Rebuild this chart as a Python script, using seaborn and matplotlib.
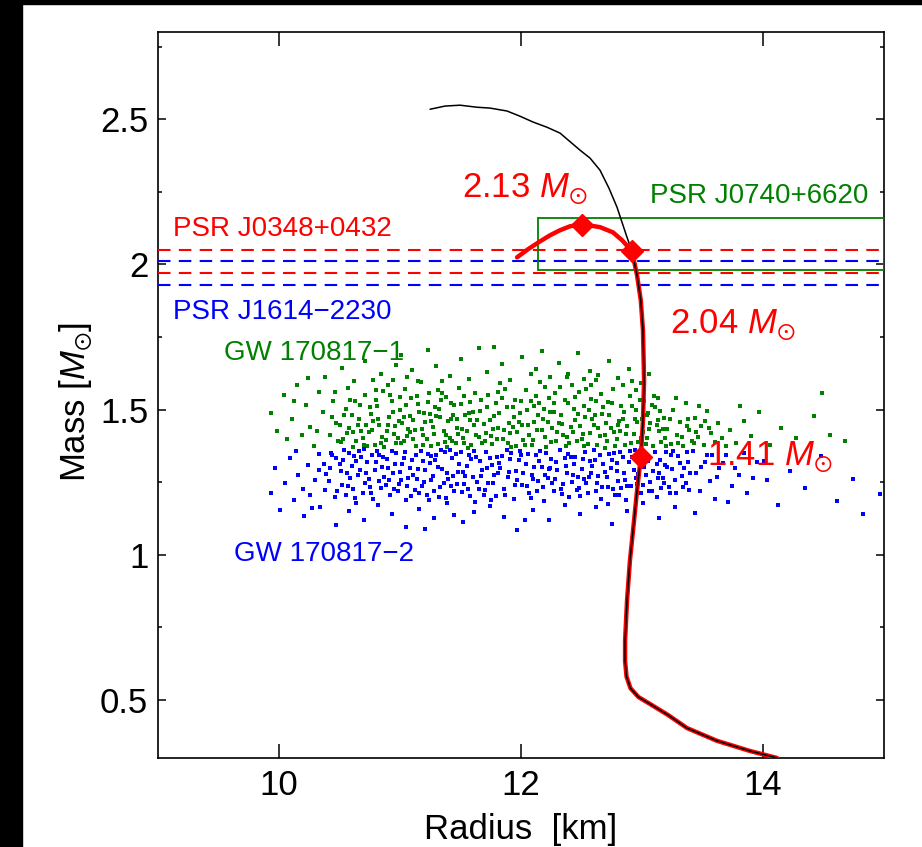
import matplotlib
matplotlib.use("Agg")
import matplotlib.pyplot as plt
from matplotlib.patches import Rectangle
from matplotlib.ticker import MultipleLocator, FixedLocator
import seaborn as sns
import pandas as pd

# mass-radius curve of the EOS (black, full branch)
curve_radius = [14.116, 13.893, 13.620, 13.372, 13.215, 13.066, 12.970, 12.905, 12.872, 12.860, 12.860,
                12.876, 12.900, 12.934, 12.959, 12.990, 13.008, 13.017, 13.008, 12.990, 12.959,
                12.917, 12.876, 12.793, 12.727, 12.653, 12.570, 12.488, 12.322, 12.215, 12.099,
                11.992, 11.884, 11.744, 11.636, 11.496, 11.372, 11.248]
curve_mass = [0.300, 0.324, 0.359, 0.403, 0.448, 0.486, 0.510, 0.540, 0.580, 0.634, 0.703,
              0.841, 0.979, 1.117, 1.221, 1.335, 1.462, 1.600, 1.772, 1.876, 1.962,
              2.045, 2.093, 2.197, 2.262, 2.324, 2.366, 2.393, 2.452, 2.472, 2.490,
              2.510, 2.528, 2.538, 2.541, 2.548, 2.545, 2.534]

# red branch (same low-mass part, then turns over at 2.13)
red_radius = [14.116, 13.893, 13.620, 13.372, 13.215, 13.066, 12.970, 12.905, 12.872, 12.860, 12.860,
              12.876, 12.900, 12.934, 12.959, 12.990, 13.008, 13.017, 13.008, 12.990, 12.959,
              12.917, 12.835, 12.760, 12.653, 12.504, 12.405, 12.320, 12.240, 12.157, 12.058, 11.967]
red_mass = [0.300, 0.324, 0.359, 0.403, 0.448, 0.486, 0.510, 0.540, 0.580, 0.634, 0.703,
            0.841, 0.979, 1.117, 1.221, 1.335, 1.462, 1.600, 1.772, 1.876, 1.962,
            2.045, 2.083, 2.110, 2.128, 2.138, 2.131, 2.117, 2.100, 2.079, 2.052, 2.024]

# marked stars
star_radius = [12.50, 12.92, 12.99]
star_mass = [2.134, 2.045, 1.335]
star_labels = ["2.13", "2.04", "1.41"]
star_label_pos = [(11.51, 2.231), (13.23, 1.762), (13.54, 1.307)]

# pulsar mass bands
j0348_band = [2.05, 1.97]
j1614_band = [2.01, 1.93]
j0740_box = (12.14, 1.979, 15.0, 2.158)  # R0, M0, R1, M1

# GW170817 posterior samples (heavier star)
gw1_points = [
    (10.42,1.412),(10.47,1.455),(10.51,1.389),(10.55,1.503),(10.58,1.437),(10.61,1.372),(10.63,1.528),(10.66,1.468),(10.69,1.401),(10.71,1.549),
    (10.74,1.421),(10.76,1.486),(10.79,1.378),(10.81,1.512),(10.83,1.446),(10.86,1.563),(10.88,1.395),(10.91,1.474),(10.93,1.531),(10.95,1.417),
    (10.97,1.384),(11.00,1.497),(11.02,1.452),(11.04,1.569),(11.06,1.408),(11.09,1.538),(11.11,1.463),(11.13,1.376),(11.15,1.519),(11.18,1.432),
    (11.20,1.488),(11.22,1.397),(11.24,1.556),(11.27,1.441),(11.29,1.507),(11.31,1.381),(11.33,1.473),(11.36,1.425),(11.38,1.542),(11.40,1.459),
    (11.43,1.392),(11.45,1.514),(11.47,1.437),(11.49,1.575),(11.52,1.403),(11.54,1.481),(11.56,1.369),(11.58,1.526),(11.61,1.448),(11.63,1.411),
    (11.66,1.495),(11.68,1.385),(10.45,1.528),(10.53,1.398),(10.60,1.481),(10.68,1.427),(10.73,1.374),(10.78,1.459),(10.85,1.407),(10.90,1.583),
    (10.96,1.444),(11.03,1.391),(11.08,1.479),(11.14,1.545),(11.19,1.413),(11.26,1.376),(11.32,1.501),(11.37,1.389),(11.42,1.466),(11.48,1.414),
    (11.53,1.547),(11.59,1.379),(11.64,1.463),(10.50,1.445),(10.64,1.392),(10.80,1.533),(10.98,1.403),(11.12,1.428),(11.25,1.483),(11.39,1.372),
    (11.51,1.432),(11.67,1.532),(10.57,1.575),(10.87,1.372),(11.05,1.516),(11.35,1.558),(11.46,1.386),(11.60,1.492),
    (11.71,1.418),(11.73,1.551),(11.76,1.382),(11.78,1.476),(11.81,1.437),(11.83,1.592),(11.85,1.399),(11.88,1.509),(11.90,1.455),(11.92,1.371),
    (11.95,1.532),(11.97,1.421),(11.99,1.487),(12.02,1.394),(12.04,1.568),(12.06,1.446),(12.09,1.378),(12.11,1.513),(12.13,1.431),(12.16,1.596),
    (12.18,1.466),(12.20,1.405),(12.23,1.541),(12.25,1.387),(12.27,1.492),(12.30,1.424),(12.32,1.579),(12.34,1.451),(12.37,1.373),(12.39,1.523),
    (12.41,1.439),(12.44,1.502),(12.46,1.392),(12.48,1.561),(12.51,1.417),(12.53,1.474),(12.55,1.382),(12.58,1.537),(12.60,1.448),(12.62,1.603),
    (12.65,1.409),(12.67,1.485),(12.69,1.369),(12.72,1.527),(12.74,1.436),(12.76,1.571),(12.79,1.398),(12.81,1.461),(12.83,1.512),(12.86,1.379),
    (12.88,1.443),(12.90,1.548),(12.93,1.414),(12.95,1.497),(12.97,1.388),(13.00,1.466),(13.02,1.531),(13.04,1.403),(13.07,1.452),(13.09,1.376),
    (13.11,1.508),(13.14,1.427),(13.16,1.389),(13.18,1.472),(11.74,1.463),(11.80,1.397),(11.87,1.572),(11.93,1.441),(12.00,1.528),(12.07,1.412),
    (12.14,1.482),(12.21,1.371),(12.28,1.556),(12.35,1.413),(12.42,1.586),(12.49,1.443),(12.56,1.497),(12.63,1.378),(12.70,1.452),(12.77,1.421),
    (12.84,1.583),(12.91,1.383),(12.98,1.534),(13.05,1.487),(13.12,1.445),(13.19,1.401),(11.79,1.523),(11.96,1.373),(12.12,1.547),(12.26,1.437),
    (12.40,1.384),(12.54,1.571),(12.68,1.507),(12.82,1.425),(12.96,1.456),(13.10,1.548),(11.86,1.428),(12.19,1.503),(12.45,1.463),(12.71,1.391),
    (13.21,1.433),(13.24,1.381),(13.26,1.497),(13.29,1.412),(13.31,1.456),(13.34,1.375),(13.36,1.521),(13.39,1.428),(13.41,1.392),(13.44,1.471),
    (13.46,1.405),(13.49,1.442),(13.51,1.378),(13.54,1.496),(13.57,1.419),(13.60,1.387),(13.63,1.452),(13.66,1.402),(13.69,1.373),(13.28,1.541),
    (13.38,1.468),(13.47,1.512),(13.55,1.437),(13.33,1.404),(13.43,1.383),
    (10.38,1.612),(10.52,1.643),(10.62,1.598),(10.71,1.667),(10.84,1.622),(10.94,1.603),(11.01,1.688),(11.10,1.637),(11.17,1.594),(11.23,1.706),
    (11.30,1.651),(11.41,1.617),(11.50,1.674),(11.57,1.606),(11.65,1.712),(11.72,1.628),(11.84,1.656),(11.91,1.601),(12.01,1.682),(12.08,1.624),
    (12.17,1.701),(12.24,1.613),(12.31,1.659),(12.38,1.612),(12.47,1.693),(12.57,1.633),(12.64,1.618),(12.73,1.667),(12.80,1.609),(12.89,1.641),
    (12.99,1.592),(13.06,1.622),(11.35,1.598),(11.78,1.716),(12.12,1.638),(12.52,1.605),(10.78,1.601),(11.06,1.612),(12.92,1.597),(10.97,1.654),
    (9.93,1.489),(9.98,1.427),(10.04,1.551),(10.07,1.398),(10.11,1.466),(10.15,1.583),(10.19,1.412),(10.22,1.517),(10.26,1.441),(10.29,1.374),
    (10.33,1.562),(10.36,1.493),(10.24,1.608),(10.12,1.531),(10.31,1.427),
    (13.73,1.428),(13.78,1.385),(13.84,1.461),(13.90,1.409),(13.97,1.492),(14.06,1.377),(14.15,1.438),(14.27,1.402),(14.42,1.476),(14.55,1.413),
    (14.68,1.392),(13.81,1.512),(14.49,1.558),
    (10.44,1.473),(10.49,1.391),(10.56,1.419),(10.59,1.532),(10.65,1.448),(10.70,1.379),(10.75,1.507),(10.82,1.468),(10.89,1.426),(10.92,1.551),
    (10.99,1.462),(11.01,1.383),(11.07,1.433),(11.16,1.492),(11.21,1.456),(11.28,1.417),(11.34,1.533),(11.41,1.402),(11.44,1.482),(11.50,1.518),
    (11.55,1.427),(11.62,1.558),(11.69,1.451),(11.75,1.409),(11.82,1.487),(11.89,1.383),(11.94,1.473),(12.01,1.447),(12.05,1.497),(12.10,1.396),
    (12.15,1.521),(12.22,1.458),(12.29,1.393),(12.33,1.482),(12.36,1.534),(12.43,1.421),(12.50,1.397),(12.52,1.513),(12.59,1.468),(12.64,1.437),
    (12.66,1.552),(12.73,1.482),(12.78,1.373),(12.85,1.493),(12.87,1.415),(12.94,1.466),(13.01,1.423),(13.03,1.382),(13.08,1.516),(13.13,1.463),
    (13.17,1.433),(13.23,1.468),(13.30,1.385),(13.37,1.443),(13.45,1.423),(13.52,1.462),(10.46,1.561),(10.54,1.482),(10.67,1.515),(10.77,1.431),
    (10.84,1.385),(10.94,1.492),(11.03,1.475),(11.08,1.421),(11.19,1.378),(11.23,1.527),(11.30,1.477),(11.38,1.411),(11.47,1.468),(11.53,1.383),
    (11.58,1.464),(11.65,1.405),(11.72,1.508),(11.77,1.432),(11.84,1.541),(11.91,1.418),(11.98,1.456),(12.03,1.378),(12.08,1.531),(12.17,1.431),
    (12.24,1.491),(12.31,1.453),(12.38,1.406),(12.45,1.543),(12.52,1.376),(12.57,1.419),(12.61,1.482),(12.69,1.413),(12.75,1.521),(12.80,1.447),
    (12.92,1.511),(12.99,1.403),(13.06,1.433),(13.15,1.496),(13.20,1.376),(10.61,1.421),(10.72,1.447),(10.90,1.447),(11.11,1.399),(11.26,1.462),
    (11.42,1.521),(11.57,1.487),(11.70,1.391),(11.93,1.508),(12.11,1.458),(12.27,1.523),(12.47,1.484),(12.62,1.529),(12.84,1.466),(13.04,1.482),
    (10.80,1.566),(11.00,1.542),(11.31,1.568),(11.81,1.562),(12.20,1.576),(12.58,1.586),(12.95,1.566),(13.13,1.541),(11.15,1.598),(12.39,1.621),
]

# GW170817 posterior samples (lighter star)
gw2_points = [
    (10.37,1.312),(10.41,1.254),(10.44,1.343),(10.48,1.221),(10.51,1.287),(10.54,1.362),(10.57,1.238),(10.60,1.305),(10.63,1.196),(10.65,1.274),
    (10.68,1.338),(10.71,1.247),(10.73,1.318),(10.76,1.213),(10.79,1.291),(10.81,1.356),(10.84,1.229),(10.87,1.268),(10.89,1.331),(10.92,1.204),
    (10.94,1.283),(10.97,1.349),(10.99,1.242),(11.02,1.311),(11.05,1.189),(11.07,1.263),(11.10,1.327),(11.12,1.224),(11.15,1.296),(11.17,1.358),
    (11.20,1.251),(11.22,1.207),(11.25,1.316),(11.27,1.272),(11.30,1.345),(11.33,1.233),(11.35,1.294),(11.38,1.196),(11.40,1.261),(11.43,1.334),
    (11.45,1.218),(11.48,1.285),(11.50,1.352),(11.53,1.244),(11.55,1.307),(11.58,1.201),(11.60,1.269),(11.63,1.336),(11.65,1.228),(11.68,1.291),
    (10.39,1.279),(10.46,1.198),(10.53,1.326),(10.59,1.263),(10.66,1.357),(10.72,1.283),(10.78,1.192),(10.85,1.302),(10.91,1.258),(10.98,1.218),
    (11.04,1.353),(11.11,1.276),(11.18,1.236),(11.24,1.187),(11.31,1.302),(11.37,1.352),(11.44,1.271),(11.51,1.215),(11.57,1.342),(11.64,1.252),
    (10.43,1.351),(10.56,1.283),(10.69,1.212),(10.83,1.344),(10.96,1.313),(11.09,1.201),(11.23,1.348),(11.36,1.246),(11.49,1.312),(11.62,1.183),
    (10.62,1.339),(10.88,1.241),(11.14,1.262),(11.41,1.361),(11.66,1.321),
    (11.71,1.352),(11.73,1.248),(11.76,1.309),(11.79,1.203),(11.81,1.281),(11.84,1.341),(11.86,1.227),(11.89,1.266),(11.91,1.329),(11.94,1.192),
    (11.96,1.288),(11.99,1.357),(12.01,1.239),(12.04,1.314),(12.07,1.211),(12.09,1.276),(12.12,1.344),(12.14,1.253),(12.17,1.301),(12.19,1.186),
    (12.22,1.264),(12.25,1.331),(12.27,1.221),(12.30,1.292),(12.32,1.359),(12.35,1.243),(12.37,1.307),(12.40,1.199),(12.43,1.273),(12.45,1.338),
    (12.48,1.231),(12.50,1.296),(12.53,1.354),(12.55,1.214),(12.58,1.282),(12.61,1.326),(12.63,1.247),(12.66,1.193),(12.68,1.311),(12.71,1.268),
    (12.73,1.347),(12.76,1.226),(12.79,1.289),(12.81,1.205),(12.84,1.336),(12.86,1.257),(12.89,1.318),(12.91,1.236),(12.94,1.362),(12.97,1.278),
    (12.99,1.213),(13.02,1.301),(13.04,1.343),(13.07,1.249),(13.09,1.287),(13.12,1.198),(13.15,1.326),(13.17,1.264),(13.20,1.352),(13.22,1.232),
    (13.25,1.296),(13.28,1.213),(13.30,1.339),(13.33,1.271),(13.36,1.247),(13.38,1.318),(11.75,1.187),(11.82,1.316),(11.88,1.362),(11.95,1.241),
    (12.02,1.283),(12.08,1.197),(12.15,1.323),(12.21,1.351),(12.28,1.262),(12.34,1.209),(12.41,1.336),(12.47,1.267),(12.54,1.246),(12.60,1.359),
    (12.67,1.234),(12.74,1.298),(12.80,1.253),(12.87,1.188),(12.93,1.291),(13.00,1.362),(13.06,1.221),(13.13,1.264),(13.19,1.309),(13.26,1.356),
    (11.78,1.273),(11.98,1.326),(12.18,1.232),(12.38,1.282),(12.57,1.324),(12.77,1.349),(12.96,1.243),(13.16,1.231),(13.35,1.297),(12.24,1.298),
    (10.21,1.132),(10.34,1.165),(10.47,1.103),(10.58,1.152),(10.70,1.121),(10.82,1.171),(10.93,1.141),(11.05,1.094),(11.16,1.158),(11.28,1.126),
    (11.39,1.177),(11.52,1.113),(11.61,1.148),(11.74,1.167),(11.86,1.129),(11.97,1.084),(12.10,1.153),(12.23,1.118),(12.36,1.172),(12.49,1.139),
    (12.62,1.164),(12.75,1.107),(12.88,1.149),(13.01,1.178),(13.14,1.127),(13.27,1.163),(13.44,1.142),(11.21,1.087),(12.03,1.121),(12.72,1.173),
    (10.64,1.178),(11.45,1.137),
    (9.93,1.214),(9.97,1.297),(10.01,1.153),(10.05,1.246),(10.09,1.333),(10.12,1.187),(10.16,1.274),(10.20,1.226),(10.24,1.308),(10.27,1.162),
    (10.30,1.259),(10.33,1.346),(10.14,1.357),(10.26,1.204),
    (13.42,1.356),(13.45,1.283),(13.48,1.221),(13.52,1.318),(13.56,1.254),(13.60,1.192),(13.64,1.297),(13.69,1.342),(13.74,1.236),(13.80,1.276),
    (13.87,1.211),(13.95,1.318),(14.03,1.258),(14.12,1.172),(14.22,1.289),(14.35,1.229),(14.48,1.341),(14.61,1.184),(14.74,1.262),(14.83,1.141),
    (14.97,1.208),(13.58,1.343),(13.71,1.182),
    (10.42,1.297),(10.47,1.333),(10.52,1.239),(10.58,1.349),(10.61,1.228),(10.67,1.293),(10.70,1.363),(10.74,1.262),(10.80,1.318),(10.83,1.253),
    (10.86,1.335),(10.90,1.297),(10.95,1.227),(11.00,1.286),(11.03,1.334),(11.06,1.238),(11.13,1.344),(11.16,1.214),(11.21,1.293),(11.26,1.256),
    (11.29,1.326),(11.32,1.198),(11.34,1.361),(11.39,1.283),(11.42,1.236),(11.46,1.347),(11.52,1.286),(11.56,1.226),(11.59,1.329),(11.67,1.271),
    (11.70,1.223),(11.74,1.333),(11.77,1.248),(11.83,1.298),(11.87,1.207),(11.92,1.351),(11.97,1.259),(12.00,1.342),(12.05,1.237),(12.11,1.302),
    (12.13,1.221),(12.16,1.357),(12.20,1.274),(12.26,1.247),(12.29,1.318),(12.33,1.226),(12.36,1.332),(12.42,1.252),(12.44,1.312),(12.49,1.203),
    (12.51,1.331),(12.56,1.269),(12.59,1.304),(12.62,1.218),(12.65,1.343),(12.69,1.286),(12.72,1.232),(12.75,1.327),(12.78,1.206),(12.82,1.352),
    (12.85,1.281),(12.88,1.236),(12.92,1.336),(12.95,1.264),(12.98,1.306),(13.01,1.239),(13.05,1.321),(13.08,1.218),(13.11,1.353),(13.14,1.283),
    (13.18,1.247),(13.21,1.301),(13.24,1.343),(13.27,1.258),(13.31,1.317),(13.34,1.234),(13.37,1.352),(13.40,1.281),(10.50,1.313),(10.55,1.207),
    (10.64,1.322),(10.77,1.343),(10.93,1.356),(11.08,1.299),(11.19,1.322),(11.28,1.218),(11.47,1.243),(11.54,1.272),(11.61,1.357),(11.69,1.206),
    (11.80,1.336),(11.90,1.286),(12.06,1.348),(12.23,1.296),(12.39,1.348),(12.52,1.261),(12.64,1.271),(12.79,1.317),(12.90,1.357),(13.03,1.273),
    (13.23,1.212),(13.39,1.223),(10.75,1.232),(11.01,1.257),(11.26,1.339),(11.72,1.297),(12.10,1.261),(12.46,1.222),(12.83,1.229),(13.12,1.313),
    (13.49,1.301),(13.54,1.343),(13.62,1.266),(13.67,1.317),(13.77,1.298),(13.84,1.351),(13.92,1.263),(14.01,1.324),(10.38,1.224),(10.33,1.291),
]

GREEN = "#008000"
BLUE = "#0000ff"
RED = "#ff0000"

sns.set_theme(style="ticks")
plt.rcParams["font.family"] = ["Liberation Sans", "DejaVu Sans"]
plt.rcParams["mathtext.fontset"] = "custom"
plt.rcParams["mathtext.rm"] = "Liberation Sans"
plt.rcParams["mathtext.it"] = "Liberation Sans:italic"
plt.rcParams["mathtext.fallback"] = "stixsans"

fig = plt.figure(figsize=(9.22, 8.47), dpi=100)
fig.patch.set_facecolor("white")
ax = fig.add_axes([0.1714, 0.1051, 0.7874, 0.8571])

# black frame strips at the left and top edge of the picture
fig.patches.append(Rectangle((0, 0), 0.0239, 1, transform=fig.transFigure, color="black", zorder=0))
fig.patches.append(Rectangle((0, 0.9953), 1, 0.0047, transform=fig.transFigure, color="black", zorder=0))

gw1 = pd.DataFrame(gw1_points, columns=["radius", "mass"])
gw2 = pd.DataFrame(gw2_points, columns=["radius", "mass"])
sns.scatterplot(data=gw1, x="radius", y="mass", ax=ax, marker="s", s=7, linewidth=0, color=GREEN, zorder=2)
sns.scatterplot(data=gw2, x="radius", y="mass", ax=ax, marker="s", s=7, linewidth=0, color=BLUE, zorder=2)

# pulsar bands
for m in j0348_band:
    ax.axhline(m, color=RED, lw=1.5, ls=(0, (6, 4)), zorder=3)
for m in j1614_band:
    ax.axhline(m, color=BLUE, lw=1.5, ls=(0, (6, 4)), zorder=3)
r0, m0, r1, m1 = j0740_box
ax.add_patch(Rectangle((r0, m0), r1 - r0, m1 - m0, fill=False, edgecolor=GREEN, lw=1.3, zorder=3))

# curves
sns.lineplot(x=red_radius, y=red_mass, ax=ax, sort=False, estimator=None, color=RED, lw=3.2, zorder=4)
sns.lineplot(x=curve_radius, y=curve_mass, ax=ax, sort=False, estimator=None, color="black", lw=1.1, zorder=5)
ax.plot(star_radius, star_mass, "D", color=RED, ms=11, mec=RED, zorder=6)

for lab, (x, y) in zip(star_labels, star_label_pos):
    ax.text(x, y, lab + r" $M_{\odot}$", color=RED, fontsize=25, ha="left", va="baseline", zorder=7)

ax.text(9.124, 2.097, "PSR J0348+0432", color=RED, fontsize=20, va="baseline")
ax.text(9.124, 1.810, "PSR J1614\u22122230", color=BLUE, fontsize=20, va="baseline")
ax.text(9.545, 1.669, "GW 170817\u22121", color=GREEN, fontsize=20, va="baseline")
ax.text(9.63, 0.979, "GW 170817\u22122", color=BLUE, fontsize=20, va="baseline")
ax.text(13.07, 2.210, "PSR J0740+6620", color=GREEN, fontsize=20, va="baseline")

ax.set_xlim(9, 15)
ax.set_ylim(0.3, 2.8)
ax.xaxis.set_major_locator(FixedLocator([10, 12, 14]))
ax.yaxis.set_major_locator(FixedLocator([0.5, 1.0, 1.5, 2.0, 2.5]))
ax.yaxis.set_minor_locator(MultipleLocator(0.25))
ax.set_xticklabels(["10", "12", "14"])
ax.set_yticklabels(["0.5", "1", "1.5", "2", "2.5"])

ax.tick_params(axis="both", which="both", direction="in", top=True, right=True,
               width=1.1, color="black", labelsize=25, labelcolor="black")
ax.tick_params(axis="x", which="major", length=10, pad=8)
ax.tick_params(axis="y", which="major", length=5.8, pad=7)
ax.tick_params(axis="y", which="minor", length=3)
for sp in ax.spines.values():
    sp.set_color("black")
    sp.set_linewidth(1.2)

ax.set_xlabel("Radius  [km]", fontsize=25, color="black")
ax.set_ylabel(r"Mass [$M_{\odot}$]", fontsize=25, color="black")
ax.xaxis.set_label_coords(0.5, -0.0758)
ax.yaxis.set_label_coords(-0.0868, 0.49)

fig.savefig("out.png", dpi=100, facecolor="white")
